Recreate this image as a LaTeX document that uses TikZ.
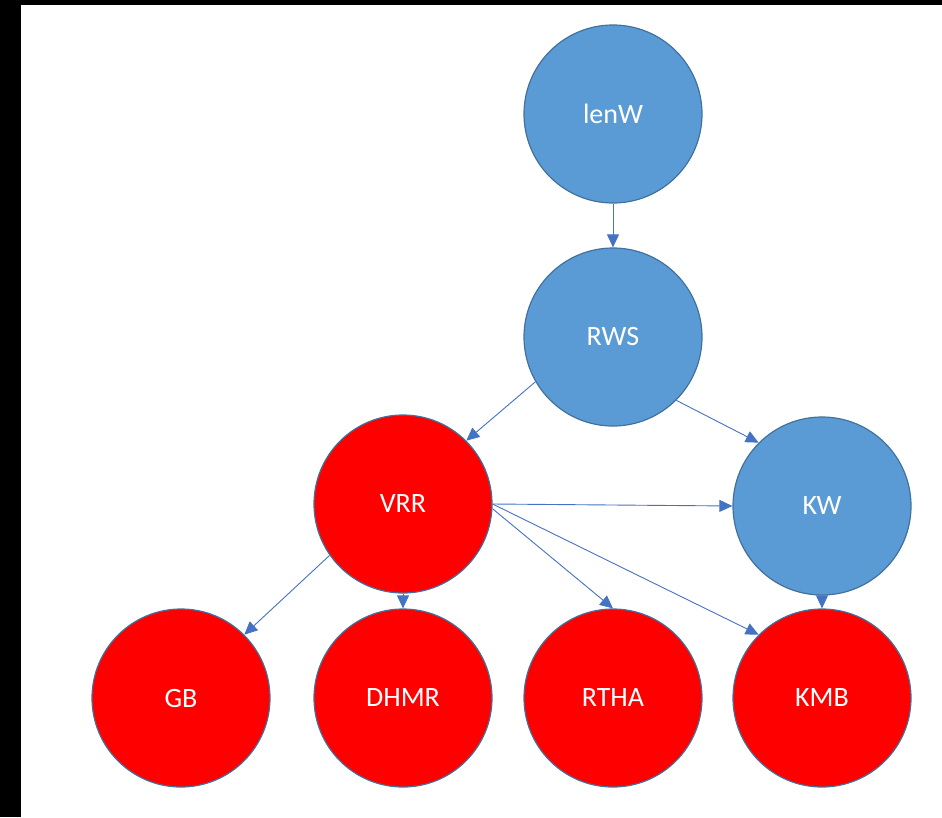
\documentclass[tikz,border=0pt]{standalone}
\usepackage{fontspec}
\setmainfont{Carlito}
\usepackage{tikz}
\usepackage{color}
\usetikzlibrary{arrows.meta}
\definecolor{nodeblue}{HTML}{5B9BD5}
\definecolor{nodered}{HTML}{FF0000}
\definecolor{rimblue}{HTML}{41719C}
\definecolor{linkblue}{HTML}{4472C4}

\begin{document}
\begin{tikzpicture}[x=1pt,y=-1pt,
		vertex/.style={circle, draw=rimblue, line width=1.2pt, minimum size=178pt, inner sep=0pt, text=white, font=\fontsize{28}{30}\selectfont},
		bluev/.style={vertex, fill=nodeblue},
		redv/.style={vertex, fill=nodered},
		link/.style={draw=linkblue, line width=0.9pt, arrows={-Triangle[length=13pt,width=12pt]}}]
		\useasboundingbox (0,0) rectangle (942,817);
		\fill [black] (0,0) rectangle (21,817);
		\fill [black] (0,0) rectangle (942,5);
		\node[bluev] (lenW) at (613,114) {lenW};
		\node[bluev] (RWS) at (613,337) {RWS};
		\node[redv] (VRR) at (403,504) {VRR};
		\node[bluev] (KW) at (822,506) {KW};
		\foreach \name/\x in {GB/181, DHMR/403, RTHA/613, KMB/822} {
			\node[redv] (\name) at (\x,698) {\name};
		}
		\draw [link] (lenW) -- (RWS);
		\draw [link] (RWS.210) -- (VRR.north east);
		\draw [link] (RWS.south east) -- (KW.north west);
		\draw [link] (VRR.east) -- (KW.west);
		\draw [link] (VRR.215) -- (GB.north east);
		\draw [link] (VRR) -- (DHMR);
		\draw [link] (VRR.-3) -- (RTHA.north);
		\draw [link] (VRR.east) -- (KMB.north west);
		\draw [link] (KW) -- (KMB);
		\end{tikzpicture}
\end{document}
